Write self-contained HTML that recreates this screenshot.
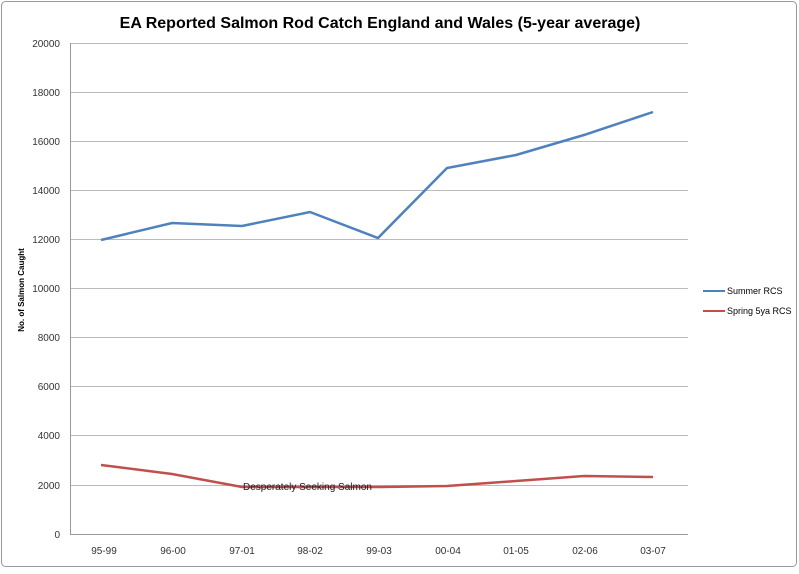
<!DOCTYPE html>
<html><head><style>body{margin:0;background:#fff}</style></head><body>
<svg width="799" height="569" xmlns="http://www.w3.org/2000/svg" font-family="Liberation Sans, sans-serif">
<rect x="1.5" y="1.5" width="795" height="565" rx="4" fill="#fff" stroke="#999"/>
<text x="380" y="28" text-anchor="middle" font-size="16" font-weight="bold" fill="#000">EA Reported Salmon Rod Catch England and Wales (5-year average)</text>
<g stroke="#bbb" stroke-width="1">
<line x1="70" x2="688" y1="43.5" y2="43.5"/><line x1="70" x2="688" y1="92.5" y2="92.5"/>
<line x1="70" x2="688" y1="141.5" y2="141.5"/><line x1="70" x2="688" y1="190.5" y2="190.5"/>
<line x1="70" x2="688" y1="239.5" y2="239.5"/><line x1="70" x2="688" y1="288.5" y2="288.5"/>
<line x1="70" x2="688" y1="337.5" y2="337.5"/><line x1="70" x2="688" y1="386.5" y2="386.5"/>
<line x1="70" x2="688" y1="435.5" y2="435.5"/><line x1="70" x2="688" y1="485.5" y2="485.5"/>
<line x1="70" x2="688" y1="534.5" y2="534.5" stroke="#999"/>
<line x1="70.5" x2="70.5" y1="43" y2="534" stroke="#999"/>
</g>
<g font-size="10" fill="#333" text-anchor="end">
<text x="60" y="47">20000</text><text x="60" y="96">18000</text><text x="60" y="145">16000</text>
<text x="60" y="194">14000</text><text x="60" y="243">12000</text><text x="60" y="292">10000</text>
<text x="60" y="341">8000</text><text x="60" y="390">6000</text><text x="60" y="439">4000</text>
<text x="60" y="489">2000</text><text x="60" y="538">0</text>
</g>
<g font-size="10" fill="#333" text-anchor="middle">
<text x="104" y="554">95-99</text><text x="173" y="554">96-00</text><text x="242" y="554">97-01</text>
<text x="310" y="554">98-02</text><text x="379" y="554">99-03</text><text x="448" y="554">00-04</text>
<text x="516" y="554">01-05</text><text x="585" y="554">02-06</text><text x="653" y="554">03-07</text>
</g>
<text transform="translate(24,290) rotate(-90)" text-anchor="middle" font-size="8" font-weight="bold">No. of Salmon Caught</text>
<polyline fill="none" stroke="#4f81bd" stroke-width="2.5" points="101,240 172,223 242,226 310,212 378,238 447,168 516,155 584,135 653,112"/>
<polyline fill="none" stroke="#c0504d" stroke-width="2.5" points="101,465 172,474 242,487 310,487 378,487 447,486 516,481 584,476 653,477"/>
<text x="243" y="490" font-size="10" fill="#222">Desperately Seeking Salmon</text>
<line x1="703" x2="725" y1="291" y2="291" stroke="#4f81bd" stroke-width="2"/>
<text x="727" y="294" font-size="9">Summer RCS</text>
<line x1="703" x2="725" y1="311" y2="311" stroke="#c0504d" stroke-width="2"/>
<text x="727" y="314" font-size="9">Spring 5ya RCS</text>
</svg>
</body></html>
